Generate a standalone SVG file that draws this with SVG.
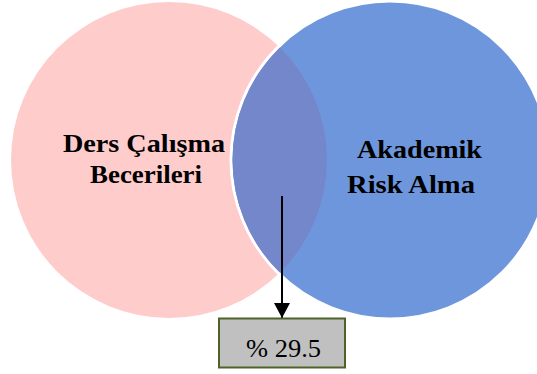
<svg xmlns="http://www.w3.org/2000/svg" width="537" height="374" viewBox="0 0 537 374">
  <style>
    .lbl { font-family: "Liberation Serif", "Times New Roman", serif; font-weight: bold; font-size: 26px; fill: #000; }
    .val { font-family: "Liberation Serif", "Times New Roman", serif; font-size: 26px; fill: #000; }
    .conn { stroke: #000; stroke-width: 2; fill: none; }
  </style>
  <defs>
    <marker id="arrow" markerUnits="userSpaceOnUse" markerWidth="16" markerHeight="16" refX="15" refY="8" orient="auto">
      <path d="M0,0 L15,8 L0,16 Z" fill="#000"/>
    </marker>
    <clipPath id="clipLeft">
      <circle cx="169" cy="160" r="158"/>
    </clipPath>
  </defs>
  <rect width="537" height="374" fill="#fff"/>
  <g id="ders">
    <circle cx="169" cy="160" r="158" fill="#FFCCCC"/>
  </g>
  <g id="akademik">
    <circle cx="390" cy="160" r="159" fill="#6E96DC" stroke="#fff" stroke-width="3"/>
    <circle cx="390" cy="160" r="157.5" fill="#7487CB" clip-path="url(#clipLeft)"/>
  </g>
  <g id="ders-label">
    <text class="lbl" x="63" y="152" textLength="162" lengthAdjust="spacingAndGlyphs">Ders Çalışma</text>
    <text class="lbl" x="90" y="183" textLength="112" lengthAdjust="spacingAndGlyphs">Becerileri</text>
  </g>
  <g id="akademik-label">
    <text class="lbl" x="357" y="158" textLength="125" lengthAdjust="spacingAndGlyphs">Akademik</text>
    <text class="lbl" x="347" y="193" textLength="128" lengthAdjust="spacingAndGlyphs">Risk Alma</text>
  </g>
  <g id="connectors">
    <line class="conn" x1="282" y1="196" x2="282" y2="318" marker-end="url(#arrow)"/>
  </g>
  <g id="result">
    <rect x="219" y="318.5" width="126" height="49" fill="#C0C0C0" stroke="#4F6228" stroke-width="2"/>
    <text class="val" x="246" y="357" textLength="75" lengthAdjust="spacingAndGlyphs">% 29.5</text>
  </g>
</svg>
